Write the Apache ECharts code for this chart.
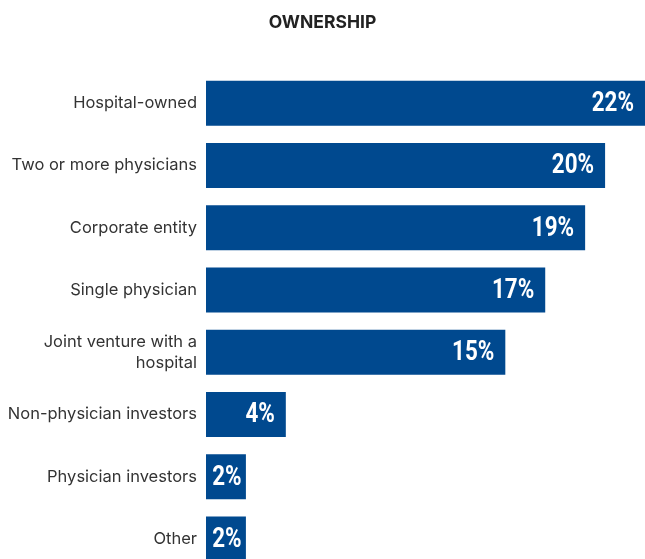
<!DOCTYPE html>
<html><head><meta charset="utf-8">
<script src="https://cdn.jsdelivr.net/npm/echarts@6/dist/echarts.min.js"></script>
<style>html,body{margin:0;padding:0;background:#fff;overflow:hidden}#c{width:645px;height:570px}</style>
</head><body><div id="c"></div>
<script>
const categories = ["Hospital-owned","Two or more physicians","Corporate entity","Single physician","Joint venture with a\nhospital","Non-physician investors","Physician investors","Other"];
const values = [22,20,19,17,15,4,2,2];
const titleText = "OWNERSHIP";

const chart = echarts.init(document.getElementById('c'));
chart.setOption({
  animation:false,
  title:{text:titleText,left:'center',top:9,textStyle:{fontFamily:'Inter',fontWeight:'bold',fontSize:17.5,color:'#222'}},
  grid:{left:206,top:72,bottom:0,width:440,containLabel:false},
  xAxis:{type:'value',min:0,max:22,show:false},
  yAxis:{type:'category',data:categories,inverse:true,axisLine:{show:false},axisTick:{show:false},
    axisLabel:{margin:9,fontFamily:'Inter',fontSize:16.5,color:'#333',lineHeight:21,align:'right'}},
  series:[
    {type:'bar',data:values,barWidth:45,itemStyle:{color:'#00498f'}},
    {type:'custom',data:values.map((v,i)=>[v,i]),z:10,
      renderItem:function(params,api){
        const p = api.coord([api.value(0), api.value(1)]);
        const s = api.coord([0, api.value(1)]);
        const narrow = (p[0]-s[0]) < 60;
        return {type:'text',x:narrow ? (p[0]+s[0])/2+1 : p[0]-11,y:p[1]+1,scaleX:0.8,scaleY:1,
          style:{text:api.value(0)+'%',fill:'#fff',font:'bold 28px Roboto',align:narrow?'center':'right',verticalAlign:'middle'}};
      }}
  ]
});
</script></body></html>
